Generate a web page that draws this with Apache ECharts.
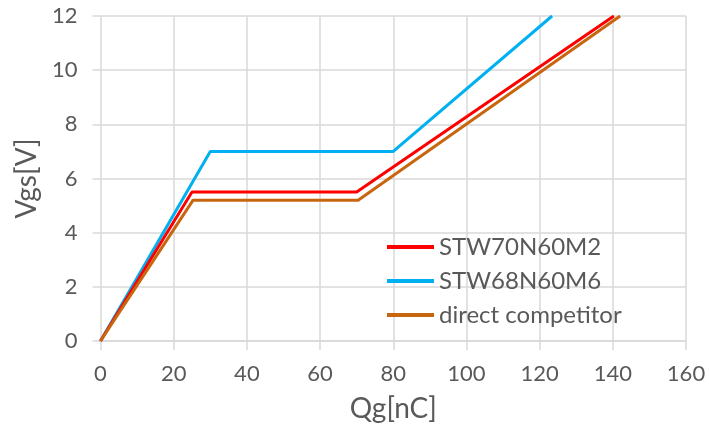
<!DOCTYPE html>
<html>
<head>
<meta charset="utf-8">
<script src="https://cdn.jsdelivr.net/npm/echarts@6/dist/echarts.min.js"></script>
<style>
  html, body { margin: 0; padding: 0; background: #fff; }
  #chart { width: 709px; height: 435px; }
</style>
</head>
<body>
<div id="chart"></div>
<script>
// Gate charge curves, Qg [nC] vs Vgs [V]
const seriesNames = ["STW70N60M2", "STW68N60M6", "direct competitor"];
const m2Qg = [0, 25, 70, 140.3];
const m2Vgs = [0, 5.5, 5.5, 12];
const m6Qg = [0, 30, 80, 123.4];
const m6Vgs = [0, 7, 7, 12];
const compQg = [0, 25.3, 70.4, 142];
const compVgs = [0, 5.2, 5.2, 12];
const xTicks = [0, 20, 40, 60, 80, 100, 120, 140, 160];
const yTicks = [0, 2, 4, 6, 8, 10, 12];

const colors = ["#FF0000", "#00B0F0", "#C8650F"];
const labelColor = "#595959";
const gridColor = "#D9D9D9";
const font = "Lato";

const pairs = (xs, ys) => xs.map((x, i) => [x, ys[i]]);

const chart = echarts.init(document.getElementById("chart"));

const option = {
  animation: false,
  textStyle: { fontFamily: font },
  grid: { left: 100.5, right: 23, top: 16, bottom: 94 },
  legend: {
    orient: "vertical",
    left: 387,
    top: 235,
    padding: 0,
    itemWidth: 47,
    itemHeight: 4,
    itemGap: 10,
    icon: "rect",
    data: seriesNames,
    textStyle: { fontFamily: font, fontSize: 24, color: labelColor, lineHeight: 24 }
  },
  xAxis: {
    type: "value",
    min: xTicks[0],
    max: xTicks[xTicks.length - 1],
    interval: 20,
    name: "Qg[nC]",
    nameLocation: "middle",
    nameGap: 54,
    nameTextStyle: { fontFamily: font, fontSize: 28, color: labelColor },
    axisLine: { show: true, lineStyle: { color: gridColor, width: 1.5 } },
    axisTick: { show: true, inside: false, length: 9, lineStyle: { color: gridColor, width: 1.5 } },
    axisLabel: { fontFamily: font, fontSize: 22, color: labelColor, margin: 22 },
    splitLine: { show: true, lineStyle: { color: gridColor, width: 1.5 } }
  },
  yAxis: {
    type: "value",
    min: yTicks[0],
    max: yTicks[yTicks.length - 1],
    interval: 2,
    name: "Vgs[V]",
    nameLocation: "middle",
    nameGap: 58,
    nameTextStyle: { fontFamily: font, fontSize: 28, color: labelColor },
    axisLine: { show: false },
    axisTick: { show: true, length: 8, lineStyle: { color: gridColor, width: 1.5 } },
    axisLabel: { fontFamily: font, fontSize: 22, color: labelColor, margin: 23 },
    splitLine: { show: true, lineStyle: { color: gridColor, width: 1.5 } }
  },
  series: [
    { name: seriesNames[1], data: pairs(m6Qg, m6Vgs), color: colors[1] },
    { name: seriesNames[0], data: pairs(m2Qg, m2Vgs), color: colors[0] },
    { name: seriesNames[2], data: pairs(compQg, compVgs), color: colors[2] }
  ].map(s => ({
    name: s.name,
    type: "line",
    data: s.data,
    showSymbol: false,
    symbol: "none",
    itemStyle: { color: s.color },
    lineStyle: { color: s.color, width: 3 }
  }))
};

chart.setOption(option);
</script>
</body>
</html>
